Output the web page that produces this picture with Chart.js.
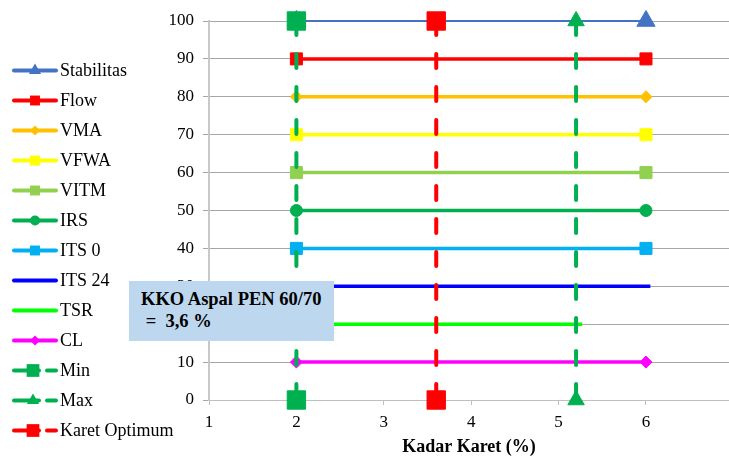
<!DOCTYPE html>
<html>
<head>
<meta charset="utf-8">
<script src="https://cdn.jsdelivr.net/npm/chart.js@4.4.0/dist/chart.umd.min.js"></script>
<style>
  html, body { margin: 0; padding: 0; background: #ffffff; }
  #wrap { position: relative; width: 729px; height: 458px; }
  #note {
    position: absolute; left: 129px; top: 281px; width: 205px; height: 60px;
    background: #BDD7EE; box-sizing: border-box; padding: 7px 0 0 12px;
    font: bold 18.5px "Liberation Serif", "Times New Roman", serif; line-height: 22px;
    color: #000; white-space: pre;
  }
</style>
</head>
<body>
<div id="wrap">
  <canvas id="c" width="729" height="458"></canvas>
  <div id="note"></div>
</div>
<script>
// Property lines: each criterion is a horizontal band at its own level
const seriesNames  = ['Stabilitas', 'Flow', 'VMA', 'VFWA', 'VITM', 'IRS', 'ITS 0', 'ITS 24', 'TSR', 'CL'];
const seriesLevels = [100, 90, 80, 70, 60, 50, 40, 30, 20, 10];
const seriesStartX = [2, 2, 2, 2, 2, 2, 2, 2, 2, 2];
const seriesEndX   = [6, 6, 6, 6, 6, 6, 6, 6.05, 5.27, 6];

// Vertical guides: rubber content limits and the optimum
const minKadar = 2;
const maxKadar = 5.2;
const karetOptimum = 3.6;
const limitNames = ['Min', 'Max', 'Karet Optimum'];
const limitX = [minKadar, maxKadar, karetOptimum];
const limitY = [100, 0];

const xTicks = [1, 2, 3, 4, 5, 6];
const yTicks = [0, 10, 20, 30, 40, 50, 60, 70, 80, 90, 100];

// Visual styles
const seriesStyle = [
  { color: '#4472C4', point: 'triangle', r: 10.5, w: 2,   lr: 7 },
  { color: '#FF0000', point: 'rect',     r: 8.5,  w: 3.5, lr: 7 },
  { color: '#FFC000', point: 'rectRot',  r: 6,    w: 3.5, lr: 5 },
  { color: '#FFFF00', point: 'rect',     r: 8.5,  w: 3.5, lr: 7 },
  { color: '#92D050', point: 'rect',     r: 8.5,  w: 3.5, lr: 7 },
  { color: '#00B050', point: 'circle',   r: 6,    w: 3.5, lr: 5 },
  { color: '#00B0F0', point: 'rect',     r: 8.5,  w: 3.5, lr: 7 },
  { color: '#0000FF', point: false,      r: 0,    w: 3.5, lr: 0 },
  { color: '#00FF00', point: false,      r: 0,    w: 3.5, lr: 0 },
  { color: '#FF00FF', point: 'rectRot',  r: 6,    w: 3.5, lr: 5 }
];
const limitStyle = [
  { color: '#00B050', point: 'rect',     r: 13, lr: 9 },
  { color: '#00B050', point: 'triangle', r: 9.5, lr: 7 },
  { color: '#FF0000', point: 'rect',     r: 13, lr: 9 }
];

const datasets = [];
seriesNames.forEach((name, i) => {
  const s = seriesStyle[i];
  datasets.push({
    label: name,
    data: [{ x: seriesStartX[i], y: seriesLevels[i] }, { x: seriesEndX[i], y: seriesLevels[i] }],
    showLine: true,
    borderColor: s.color,
    backgroundColor: s.color,
    borderWidth: s.w,
    pointStyle: s.point || 'circle',
    pointRadius: s.r,
    pointBorderWidth: 1,
    pointBorderColor: s.color,
    pointBackgroundColor: s.color,
    clip: false,
    _legend: { color: s.color, point: s.point, lr: s.lr, dashed: false }
  });
});
limitNames.forEach((name, i) => {
  const s = limitStyle[i];
  datasets.push({
    label: name,
    data: limitY.map(y => ({ x: limitX[i], y })),
    showLine: true,
    borderColor: s.color,
    backgroundColor: s.color,
    borderWidth: 4,
    borderDash: [14, 19],
    borderCapStyle: 'round',
    pointStyle: s.point,
    pointRadius: s.r,
    pointBorderWidth: 1,
    pointBorderColor: s.color,
    pointBackgroundColor: s.color,
    clip: false,
    _legend: { color: s.color, point: s.point, lr: s.lr, dashed: true }
  });
});
// later series are painted above earlier ones
datasets.forEach((d, i) => { d.order = datasets.length - i; });

const SERIF = '"Liberation Serif", "Times New Roman", serif';

function shape(ctx, style, x, y, r) {
  ctx.beginPath();
  if (style === 'rect') {
    const h = r * Math.SQRT1_2;
    ctx.rect(x - h, y - h, 2 * h, 2 * h);
  } else if (style === 'rectRot') {
    ctx.moveTo(x - r, y); ctx.lineTo(x, y - r); ctx.lineTo(x + r, y); ctx.lineTo(x, y + r); ctx.closePath();
  } else if (style === 'triangle') {
    ctx.moveTo(x, y - r);
    ctx.lineTo(x + r * Math.sin(2 * Math.PI / 3), y - r * Math.cos(2 * Math.PI / 3));
    ctx.lineTo(x + r * Math.sin(4 * Math.PI / 3), y - r * Math.cos(4 * Math.PI / 3));
    ctx.closePath();
  } else if (style === 'circle') {
    ctx.arc(x, y, r, 0, Math.PI * 2);
  }
  ctx.fill();
}

// Line-and-marker legend along the left side
const sideLegend = {
  id: 'sideLegend',
  afterDraw(chart) {
    const ctx = chart.ctx;
    ctx.save();
    ctx.font = '18px ' + SERIF;
    ctx.textBaseline = 'middle';
    ctx.textAlign = 'left';
    chart.data.datasets.forEach((d, i) => {
      const lg = d._legend;
      const y = 70.5 + 30 * i;
      ctx.strokeStyle = lg.color;
      ctx.fillStyle = lg.color;
      ctx.lineWidth = 4;
      ctx.lineCap = 'round';
      ctx.beginPath();
      if (lg.dashed) {
        ctx.moveTo(14, y); ctx.lineTo(39, y);
        ctx.moveTo(47, y); ctx.lineTo(56, y);
      } else {
        ctx.moveTo(14, y); ctx.lineTo(56, y);
      }
      ctx.stroke();
      if (lg.point) shape(ctx, lg.point, lg.dashed ? 33 : 35, y, lg.lr);
      ctx.fillStyle = '#000';
      ctx.fillText(d.label, 60, y + 1);
    });
    ctx.restore();
  }
};

new Chart(document.getElementById('c'), {
  type: 'scatter',
  data: { datasets },
  options: {
    responsive: false,
    animation: false,
    layout: { autoPadding: false, padding: { left: 150, top: 21, right: 0, bottom: 0 } },
    plugins: { legend: { display: false }, tooltip: { enabled: false } },
    scales: {
      x: {
        type: 'linear',
        min: 1,
        max: 6.95,
        afterBuildTicks: s => { s.ticks = xTicks.map(v => ({ value: v })); },
        afterFit: s => { s.height = 58; },
        grid: { drawOnChartArea: false, drawTicks: true, tickLength: 5, color: '#BFBFBF' },
        border: { display: true, color: '#BFBFBF', width: 1 },
        ticks: { color: '#000', font: { family: SERIF, size: 17 }, padding: 7, maxRotation: 0, autoSkip: false },
        title: {
          display: true, text: 'Kadar Karet (%)', color: '#000',
          font: { family: SERIF, size: 18, weight: 'bold' }, padding: { top: 0, bottom: 0 }
        }
      },
      y: {
        min: 0,
        max: 100,
        afterBuildTicks: s => { s.ticks = yTicks.map(v => ({ value: v })); },
        afterFit: s => { s.width = 59; },
        grid: { color: '#A6A6A6', lineWidth: 1, drawTicks: true, tickLength: 6 },
        border: { display: true, color: '#C8C8C8', width: 2 },
        ticks: { color: '#000', font: { family: SERIF, size: 17 }, padding: 9 }
      }
    }
  },
  plugins: [sideLegend]
});

// Callout stating the optimum rubber content
document.getElementById('note').textContent =
  'KKO Aspal PEN 60/70\n =  ' + String(karetOptimum).replace('.', ',') + ' %';
</script>
</body>
</html>
